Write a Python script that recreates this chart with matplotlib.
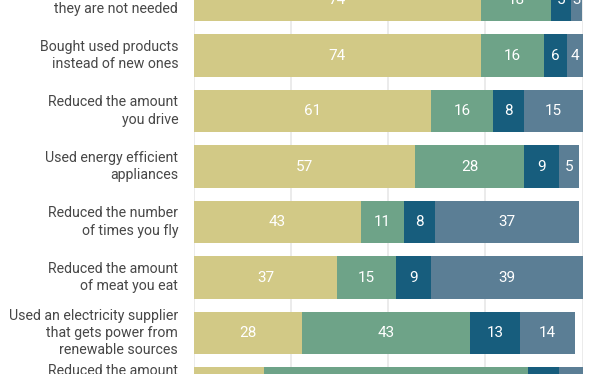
import matplotlib.pyplot as plt
from matplotlib.transforms import offset_copy

plt.rcParams['font.family'] = ['Roboto', 'DejaVu Sans']

# Survey items, top to bottom (first and last rows are cut by the crop)
actions = [
    'Turned off lights and electronics when\nthey are not needed',
    'Bought used products\ninstead of new ones',
    'Reduced the amount\nyou drive',
    'Used energy efficient\nappliances',
    'Reduced the number\nof times you fly',
    'Reduced the amount\nof meat you eat',
    'Used an electricity supplier\nthat gets power from\nrenewable sources',
    'Reduced the amount\nof energy you use\nat home',
]

# Response shares (%) per action
done = [74, 74, 61, 57, 43, 37, 28, 18]
would_consider = [18, 16, 16, 28, 11, 15, 43, 68]
would_not = [5, 6, 8, 9, 8, 9, 13, 8]
not_possible = [3, 4, 15, 5, 37, 39, 14, 6]

series = [done, would_consider, would_not, not_possible]
colors = ['#d2c986', '#6ea388', '#175d7d', '#5b7e95']
show_label = [True, True, True, True, True, True, True, False]

dpi = 100
fig = plt.figure(figsize=(612 / dpi, 374 / dpi), dpi=dpi)
ax = fig.add_axes([193.5 / 612, 0, 389 / 612, 1])

rows = list(range(len(actions)))
left = [0] * len(actions)
for vals, color in zip(series, colors):
    bars = ax.barh(rows, vals, left=left, height=0.766, color=color, zorder=2)
    for i, (b, v) in enumerate(zip(bars, vals)):
        if show_label[i]:
            ax.text(
                b.get_x() + b.get_width() / 2,
                b.get_y() + b.get_height() / 2,
                str(v),
                ha='center',
                va='center',
                color='white',
                fontsize=11,
                zorder=3,
            )
    left = [l + v for l, v in zip(left, vals)]

ax.set_xticks([0, 25, 50, 75, 100])
ax.xaxis.grid(True, color='#e8e8e8', linewidth=1.2, zorder=0)
ax.set_axisbelow(True)
ax.tick_params(axis='x', length=0, labelbottom=False)
ax.set_yticks([])

# category labels as plain text so the cropped last row still gets one
label_tf = offset_copy(ax.get_yaxis_transform(), fig=fig, x=-11, y=0, units='points')
for r, name in zip(rows, actions):
    ax.text(
        0, r, name,
        transform=label_tf,
        ha='right', va='center', multialignment='right',
        fontsize=10.2, color='#474747', linespacing=1.3,
        clip_on=False,
    )

# limits last so nothing widens them
ax.set_xlim(0, 100)
ax.set_ylim((374 - 0.1) / 55.5, -0.1 / 55.5)

for s in ax.spines.values():
    s.set_visible(False)

fig.savefig('out.png', dpi=dpi)
